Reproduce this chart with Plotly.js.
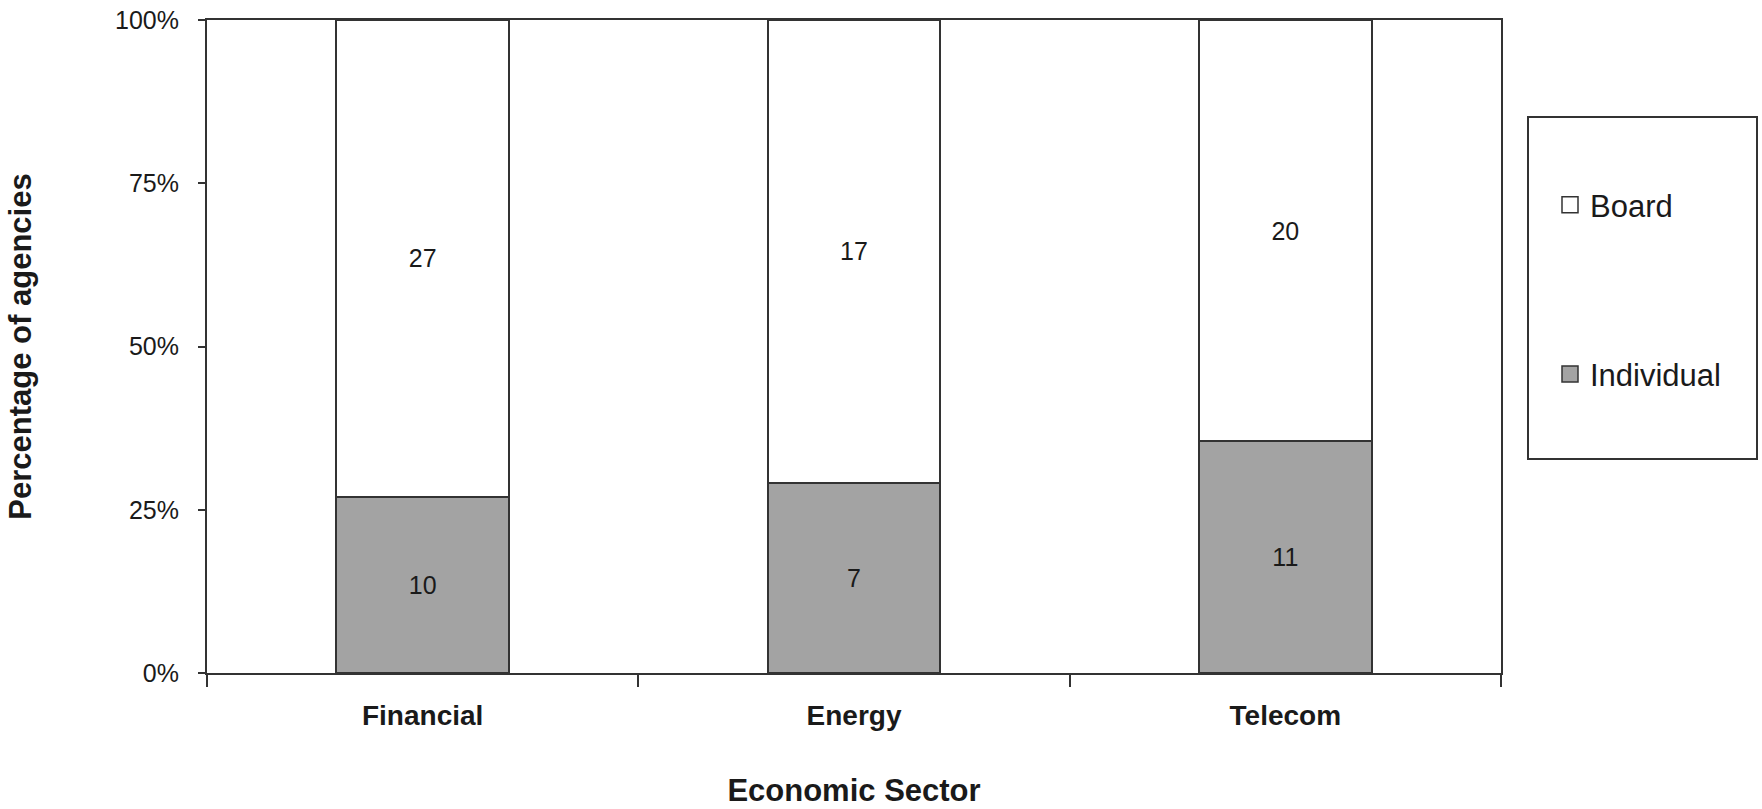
<!DOCTYPE html>
<html>
<head>
<meta charset="utf-8">
<script src="https://cdn.plot.ly/plotly-3.0.1.min.js"></script>
<style>html,body{margin:0;padding:0;background:#fff;}#chart{width:1762px;height:809px;}</style>
</head>
<body>
<div id="chart"></div>
<script>
var categories = ["Financial", "Energy", "Telecom"];
var individualCounts = [10, 7, 11];
var boardCounts = [27, 17, 20];
var seriesNames = ["Individual", "Board"];
var yTickVals = [0, 25, 50, 75, 100];
var yTickText = ["0%", "25%", "50%", "75%", "100%"];

var FONT = "Arial, 'Liberation Sans', sans-serif";
var EDGE = "#333333";

var traces = [
  {
    type: "bar", name: seriesNames[0], x: categories, y: individualCounts,
    text: individualCounts.map(String), textposition: "inside", insidetextanchor: "middle",
    constraintext: "none", textangle: 0,
    textfont: {family: FONT, size: 25, color: "#1a1a1a"},
    marker: {color: "#a3a3a3", line: {color: EDGE, width: 2}},
    showlegend: false, hoverinfo: "skip"
  },
  {
    type: "bar", name: seriesNames[1], x: categories, y: boardCounts,
    text: boardCounts.map(String), textposition: "inside", insidetextanchor: "middle",
    constraintext: "none", textangle: 0,
    textfont: {family: FONT, size: 25, color: "#1a1a1a"},
    marker: {color: "#ffffff", line: {color: EDGE, width: 2}},
    showlegend: false, hoverinfo: "skip"
  },
  {
    type: "scatter", mode: "markers", name: seriesNames[1], x: [null], y: [null],
    legendgroup: "b",
    marker: {symbol: "square", size: 16, color: "#ffffff", line: {color: EDGE, width: 1.5}}
  },
  {
    type: "scatter", mode: "markers", name: seriesNames[0], x: [null], y: [null],
    legendgroup: "i",
    marker: {symbol: "square", size: 16, color: "#a3a3a3", line: {color: EDGE, width: 1.5}}
  }
];

var L = 207, R = 1501, T = 20, B = 673, W = 1762, H = 809;
function px(x) { return (x - L) / (R - L); }
function py(y) { return (B - y) / (B - T); }

var layout = {
  width: W, height: H,
  margin: {l: L, r: W - R, t: T, b: H - B, pad: 0},
  paper_bgcolor: "#fff", plot_bgcolor: "#fff",
  font: {family: FONT, color: "#1a1a1a"},
  barmode: "stack", barnorm: "percent", bargap: 0.6,
  xaxis: {
    type: "category",
    showgrid: false, zeroline: false,
    showline: true, mirror: true, linecolor: EDGE, linewidth: 2,
    ticks: "outside", tickson: "boundaries", ticklen: 12, tickwidth: 2, tickcolor: EDGE,
    ticklabelstandoff: 16,
    tickfont: {family: FONT, size: 28, color: "#1a1a1a", weight: "bold"},
    title: {text: "<b>Economic Sector</b>", font: {family: FONT, size: 31, color: "#1a1a1a"}, standoff: 50}
  },
  yaxis: {
    range: [0, 100], tickvals: yTickVals, ticktext: yTickText,
    showgrid: false, zeroline: false,
    showline: true, mirror: true, linecolor: EDGE, linewidth: 2,
    ticks: "outside", ticklen: 7, tickwidth: 2, tickcolor: EDGE,
    ticklabelstandoff: 14,
    tickfont: {family: FONT, size: 25, color: "#1a1a1a"},
    title: {text: "<b>Percentage of agencies</b>", font: {family: FONT, size: 31, color: "#1a1a1a"}, standoff: 74}
  },
  legend: {
    x: px(1550), y: py(178), xanchor: "left", yanchor: "top",
    traceorder: "grouped", tracegroupgap: 126,
    bgcolor: "rgba(0,0,0,0)", borderwidth: 0,
    font: {family: FONT, size: 31, color: "#1a1a1a"}
  },
  shapes: [
    {type: "rect", xref: "paper", yref: "paper",
     x0: px(1528), x1: px(1757), y0: py(459), y1: py(117),
     line: {color: EDGE, width: 2}, fillcolor: "rgba(0,0,0,0)", layer: "below"}
  ]
};

Plotly.newPlot("chart", traces, layout, {staticPlot: true, displayModeBar: false});
</script>
</body>
</html>
